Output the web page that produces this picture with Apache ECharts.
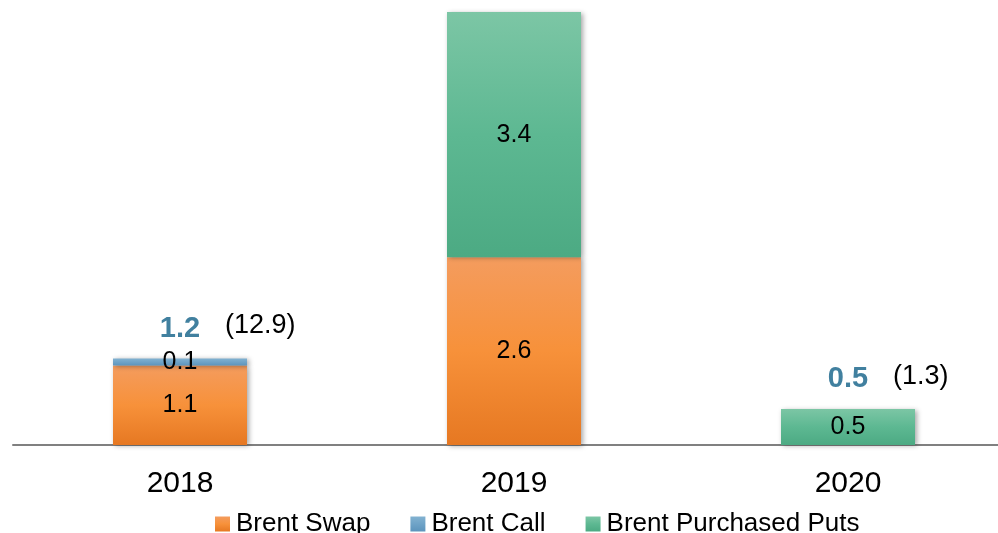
<!DOCTYPE html>
<html>
<head>
<meta charset="utf-8">
<title>Brent hedges</title>
<script src="https://cdn.jsdelivr.net/npm/echarts@6/dist/echarts.min.js"></script>
<style>
    html, body { margin: 0; padding: 0; background: #fff; }
    #chart { width: 998px; height: 533px; }
</style>
</head>
<body>
<div id="chart"></div>
<script>
// 数据
var years = ['2018', '2019', '2020'];
var brentSwap = [1.1, 2.6, null];
var brentCall = [0.1, null, null];
var brentPuts = [null, 3.4, 0.5];
var totals = [1.2, null, 0.5];
var notes = ['(12.9)', null, '(1.3)'];

var fontFamily = 'Arial, "Liberation Sans", sans-serif';

function vGrad(top, mid, bottom) {
    return new echarts.graphic.LinearGradient(0, 0, 0, 1, [
        { offset: 0, color: top },
        { offset: 0.5, color: mid },
        { offset: 1, color: bottom }
    ]);
}

var barShadow = {
    shadowBlur: 5,
    shadowColor: 'rgba(0,0,0,0.35)',
    shadowOffsetX: 2,
    shadowOffsetY: 1
};

function segLabel() {
    return {
        show: true,
        position: 'inside',
        color: '#000',
        fontSize: 25,
        fontFamily: fontFamily,
        formatter: function(p) { return p.value == null ? '' : p.value.toFixed(1); }
    };
}

var chart = echarts.init(document.getElementById('chart'));

var option = {
    animation: false,
    // 右侧超出画布，让三根柱子的间距与原图一致
    grid: { left: 13, top: 12, bottom: 88, width: 1002, outerBoundsMode: 'none' },
    legend: {
        data: ['Brent Swap', 'Brent Call', 'Brent Purchased Puts'],
        left: 210,
        top: 506,
        icon: 'rect',
        itemWidth: 15,
        itemHeight: 15,
        itemGap: 40,
        textStyle: { fontSize: 26, color: '#000', fontFamily: fontFamily, padding: [0, 0, 0, 1] }
    },
    xAxis: {
        type: 'category',
        data: years,
        axisLine: { lineStyle: { color: '#808080', width: 2 } },
        axisTick: { show: false },
        axisLabel: { fontSize: 30, color: '#000', fontFamily: fontFamily, margin: 24 }
    },
    yAxis: {
        type: 'value',
        min: 0,
        max: 6,
        show: false,
        splitLine: { show: false }
    },
    series: [
        {
            name: 'Brent Swap',
            type: 'bar',
            stack: 'hedge',
            barWidth: 134,
            data: brentSwap,
            itemStyle: Object.assign({ color: vGrad('#F49C5E', '#F7913A', '#E67822') }, barShadow),
            label: segLabel()
        },
        {
            name: 'Brent Call',
            type: 'bar',
            stack: 'hedge',
            barWidth: 134,
            data: brentCall,
            itemStyle: Object.assign({ color: vGrad('#82B2D1', '#6FA3C7', '#5C94BC') }, barShadow),
            label: segLabel()
        },
        {
            name: 'Brent Purchased Puts',
            type: 'bar',
            stack: 'hedge',
            barWidth: 134,
            data: brentPuts,
            itemStyle: Object.assign({ color: vGrad('#7CC6A5', '#5DB892', '#4CAA83') }, barShadow),
            label: segLabel()
        },
        {
            // 合计
            name: 'total',
            type: 'scatter',
            data: totals,
            symbolSize: 0,
            silent: true,
            itemStyle: { opacity: 1 },
            label: {
                show: true,
                position: 'top',
                distance: 15,
                color: '#41809F',
                fontSize: 29,
                fontWeight: 'bold',
                fontFamily: fontFamily,
                formatter: function(p) { return p.value == null ? '' : p.value.toFixed(1); }
            }
        },
        {
            name: 'note',
            type: 'scatter',
            data: totals,
            symbolSize: 0,
            silent: true,
            itemStyle: { opacity: 1 },
            label: {
                show: true,
                position: 'top',
                distance: 19,
                align: 'left',
                offset: [45, 0],
                color: '#000',
                fontSize: 27,
                fontFamily: fontFamily,
                formatter: function(p) { return notes[p.dataIndex] || ''; }
            }
        }
    ]
};

chart.setOption(option);

window.onresize = function() {
    chart.resize();
};
</script>
</body>
</html>
